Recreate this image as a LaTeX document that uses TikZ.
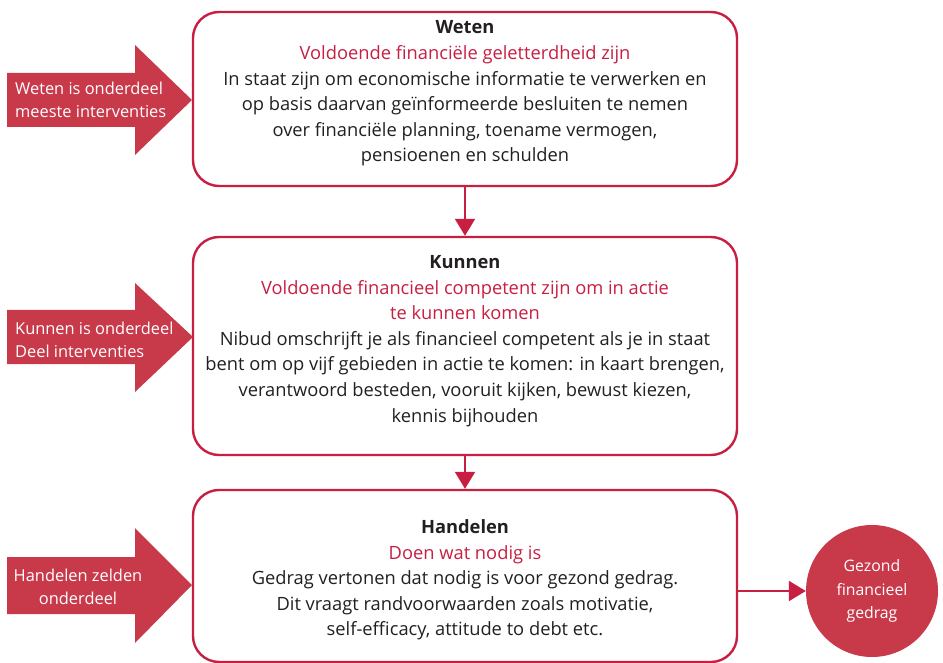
\documentclass[tikz,border=0pt]{standalone}
\usepackage{fontspec}
\setmainfont{Open Sans}
\usetikzlibrary{arrows.meta}
\definecolor{boxred}{RGB}{200,30,65}
\definecolor{fillred}{RGB}{200,58,74}
\definecolor{txtdark}{RGB}{35,31,32}
\begin{document}
\begin{tikzpicture}[x=1pt,y=-1pt,
  boxstyle/.style={draw=boxred, line width=2.4pt, rounded corners=26pt, minimum width=544pt, inner sep=0pt},
  boxtext/.style={align=center, text=txtdark, font=\fontsize{18.3}{25.6}\selectfont, inner sep=0pt},
  arrowtext/.style={text=white, font=\fontsize{16.4}{22.5}\selectfont, inner sep=0pt},
  conn/.style={draw=boxred, line width=2.2pt, -{Triangle[length=17pt,width=20pt]}},
  bigarrow/.style={fill=fillred, draw=none}
]
\useasboundingbox (0,0) rectangle (943,663);

% boxes
\node[boxstyle, minimum height=174pt] (w) at (465,99) {};
\node[boxstyle, minimum height=218pt] (k) at (465,346) {};
\node[boxstyle, minimum height=172pt] (h) at (465,576) {};

% box texts
\node[boxtext] (wt) at (465,93.5) {\textbf{Weten}\\
  \textcolor{boxred}{Voldoende financiële geletterdheid zijn}\\
  In staat zijn om economische informatie te verwerken en\\
  op basis daarvan geïnformeerde besluiten te nemen\\
  over financiële planning, toename vermogen,\\
  pensioenen en schulden};
\node[boxtext] (kt) at (465,341) {\textbf{Kunnen}\\
  \textcolor{boxred}{Voldoende financieel competent zijn om in actie}\\
  \textcolor{boxred}{te kunnen komen}\\
  Nibud omschrijft je als financieel competent als je in staat\\
  bent om op vijf gebieden in actie te komen: in kaart brengen,\\
  verantwoord besteden, vooruit kijken, bewust kiezen,\\
  kennis bijhouden};
\node[boxtext] (ht) at (465,580) {\textbf{Handelen}\\
  \textcolor{boxred}{Doen wat nodig is}\\
  Gedrag vertonen dat nodig is voor gezond gedrag.\\
  Dit vraagt randvoorwaarden zoals motivatie,\\
  self-efficacy, attitude to debt etc.};

% circle
\node[circle, fill=fillred, minimum size=132pt, inner sep=0pt, align=center, text=white,
  font=\fontsize{15.8}{23.5}\selectfont] (c) at (872,591) {\raisebox{0pt}{}Gezond\\financieel\\gedrag};

% connectors
\draw[conn] (w.south) -- (k.north);
\draw[conn] (k.south) -- (h.north);
\draw[conn] (h.east |- c.west) -- (c.west);

% left arrows
\path[bigarrow] (7,73) -- (135,73) -- (135,45) -- (192,100) -- (135,155) -- (135,127) -- (7,127) -- cycle;
\path[bigarrow] (7,310) -- (135,310) -- (135,283) -- (193,337) -- (135,392) -- (135,364) -- (7,364) -- cycle;
\path[bigarrow] (7,557) -- (135,557) -- (135,528) -- (192,585) -- (135,643) -- (135,614) -- (7,614) -- cycle;

\node[arrowtext, anchor=west, align=left] (a1) at (15,100) {Weten is onderdeel\\meeste interventies};
\node[arrowtext, anchor=west, align=left] (a2) at (15,340) {Kunnen is onderdeel\\Deel interventies};
\node[arrowtext, align=center] (a3) at (78,587) {Handelen zelden\\onderdeel};
\end{tikzpicture}
\end{document}
